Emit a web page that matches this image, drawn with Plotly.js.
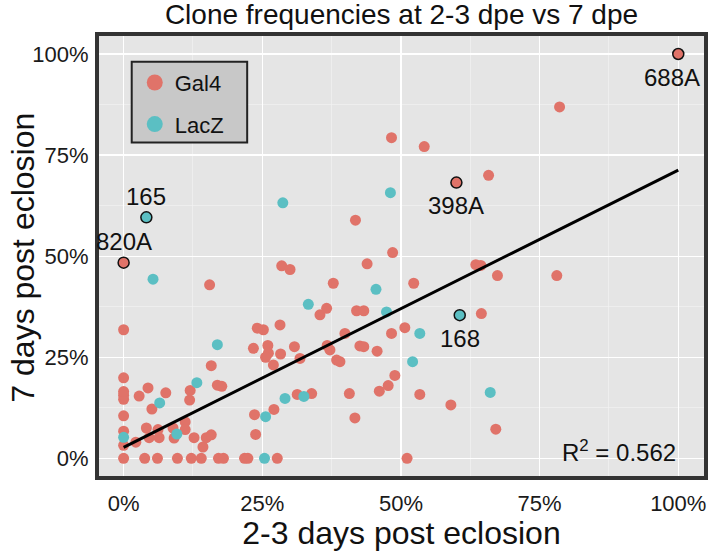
<!DOCTYPE html>
<html><head><meta charset="utf-8">
<script src="https://cdn.plot.ly/plotly-3.0.1.min.js"></script>
<style>html,body{margin:0;padding:0;background:#fff}</style>
</head><body><div id="chart" style="width:721px;height:551px"></div>
<script>
// Gal4 series (first three points are labelled)
const gal4X = [1.0, 0.600, 0.0,
  0, 0.038, 0.061, 0.097, 0.122, 0.140, 0.171, 0.180, 0.218, 0.224, 0.277, 0.511,
  0, 0, 0, 0, 0, 0, 0, 0,
  0.022, 0.028, 0.041, 0.044, 0.046, 0.051, 0.062, 0.064, 0.076, 0.089, 0.091, 0.111, 0.111, 0.119, 0.120,
  0.127, 0.143, 0.149, 0.158, 0.155, 0.158, 0.169, 0.177, 0.236, 0.238, 0.234, 0.241, 0.252, 0.260, 0.261,
  0.256, 0.270, 0.271, 0.282, 0.283, 0.285, 0.300, 0.308, 0.313, 0.318, 0.339, 0.354, 0.366, 0.367, 0.372,
  0.378, 0.384, 0.390, 0.399, 0.407, 0.417, 0.418, 0.420, 0.433, 0.426, 0.433, 0.439, 0.457, 0.461, 0.477,
  0.483, 0.483, 0.485, 0.489, 0.507, 0.523, 0.534, 0.542, 0.590, 0.635, 0.644, 0.645, 0.658, 0.671, 0.674,
  0.781, 0.786];
const gal4Y = [1.0, 0.682, 0.484,
  0, 0, 0, 0, 0, 0, 0, 0, 0, 0, 0, 0,
  0.032, 0.067, 0.105, 0.146, 0.156, 0.165, 0.199, 0.318,
  0.040, 0.154, 0.075, 0.174, 0.051, 0.122, 0.071, 0.051, 0.162, 0.075, 0.050, 0.090, 0.071, 0.144, 0.168,
  0.051, 0.028, 0.051, 0.058, 0.429, 0.229, 0.181, 0.178, 0.108, 0.059, 0.272, 0.322, 0.318, 0.279, 0.260,
  0.250, 0.231, 0.121, 0.330, 0.258, 0.476, 0.467, 0.276, 0.158, 0.247, 0.160, 0.355, 0.371, 0.279, 0.268,
  0.433, 0.243, 0.239, 0.309, 0.160, 0.100, 0.589, 0.365, 0.365, 0.278, 0.276, 0.481, 0.265, 0.166, 0.180,
  0.309, 0.793, 0.509, 0.205, 0.323, 0.433, 0.158, 0.771, 0.132, 0.479, 0.477, 0.358, 0.700, 0.072, 0.452,
  0.452, 0.869];
const gal4Labels = ['688A', '398A', '820A'];

// LacZ series (first two points are labelled)
const laczX = [0.041, 0.606,
  0, 0.053, 0.065, 0.096, 0.132, 0.169, 0.254, 0.256, 0.287, 0.291, 0.325, 0.333, 0.455, 0.474, 0.481,
  0.521, 0.534, 0.661];
const laczY = [0.596, 0.354,
  0.052, 0.443, 0.137, 0.060, 0.187, 0.281, 0, 0.103, 0.632, 0.148, 0.153, 0.381, 0.418, 0.362, 0.657,
  0.239, 0.309, 0.163];
const laczLabels = ['165', '168'];

// Linear fit
const fitIntercept = 0.027;
const fitSlope = 0.686;
const rSquared = '0.562';

const xTickVals = [0, 0.25, 0.5, 0.75, 1];
const xTickText = ['0%', '25%', '50%', '75%', '100%'];
const yTickVals = [0, 0.25, 0.5, 0.75, 1];
const yTickText = ['0%', '25%', '50%', '75%', '100%'];

const titleText = 'Clone frequencies at 2-3 dpe vs 7 dpe';
const xTitleText = '2-3 days post eclosion';
const yTitleText = '7 days post eclosion';

const labelPlacement = {'688A': 'below', '398A': 'below', '820A': 'above', '165': 'above', '168': 'below'};

const RED = '#E07369', TEAL = '#5BBFC3';
const FONT = 'Liberation Sans, Arial, Helvetica, sans-serif';

function seriesTrace(xs, ys, labels, color, name) {
  const lw = xs.map((_, i) => labels[i] ? 1.5 : 0);
  return {
    x: xs, y: ys, mode: 'markers', type: 'scatter', name: name, showlegend: false,
    marker: {size: 11, color: color, line: {color: '#111', width: lw}},
    hoverinfo: 'x+y'
  };
}

const allX = gal4X.concat(laczX);
const minX = Math.min(...allX), maxX = Math.max(...allX);
const fitTrace = {
  x: [minX, maxX], y: [fitIntercept + fitSlope * minX, fitIntercept + fitSlope * maxX],
  mode: 'lines', type: 'scatter', line: {color: '#000', width: 3}, showlegend: false, hoverinfo: 'skip'
};

const data = [
  seriesTrace(gal4X.slice(3), gal4Y.slice(3), [], RED, 'Gal4'),
  seriesTrace(laczX.slice(2), laczY.slice(2), [], TEAL, 'LacZ'),
  fitTrace,
  seriesTrace(gal4X.slice(0, 3), gal4Y.slice(0, 3), gal4Labels, RED, 'Gal4'),
  seriesTrace(laczX.slice(0, 2), laczY.slice(0, 2), laczLabels, TEAL, 'LacZ'),
  {x: [null], y: [null], mode: 'markers', type: 'scatter', name: 'Gal4', legendgroup: 'a',
   marker: {size: 16, color: RED}},
  {x: [null], y: [null], mode: 'markers', type: 'scatter', name: 'LacZ', legendgroup: 'b',
   marker: {size: 16, color: TEAL}}
];

const annotations = [];
function addLabels(xs, ys, labels) {
  labels.forEach((t, i) => {
    if (!t) return;
    const below = labelPlacement[t] === 'below';
    annotations.push({
      x: xs[i], y: ys[i], xref: 'x', yref: 'y', text: t, showarrow: false,
      xanchor: 'center', yanchor: 'middle', yshift: below ? -23 : 21, xshift: t === '688A' ? -6 : 0,
      font: {family: FONT, size: 24, color: '#111'}
    });
  });
}
addLabels(gal4X, gal4Y, gal4Labels);
addLabels(laczX, laczY, laczLabels);
annotations.push({
  x: 1.0, y: 0.018, xref: 'x', yref: 'y', text: 'R<sup>2</sup> = ' + rSquared, showarrow: false,
  xanchor: 'right', yanchor: 'middle', font: {family: FONT, size: 24, color: '#111'}
});
// y-axis title (placed as an annotation so it can sit close to the tick labels)
annotations.push({
  x: -0.121, y: 0.497, xref: 'paper', yref: 'paper', text: yTitleText, showarrow: false,
  textangle: -90, xanchor: 'center', yanchor: 'middle',
  font: {family: FONT, size: 32, color: '#111'}
});

const axisCommon = {
  showgrid: true, gridcolor: '#FFFFFF', gridwidth: 1.2, zeroline: false, showline: false,
  ticks: 'outside', tickcolor: 'rgba(0,0,0,0)',
  tickfont: {family: FONT, size: 22, color: '#1a1a1a'},
  minor: {showgrid: true, gridcolor: '#F4F4F4', gridwidth: 0.6, ticks: ''},
  fixedrange: true
};

const layout = {
  width: 721, height: 551,
  margin: {l: 97, r: 15, t: 34, b: 73, pad: 0},
  paper_bgcolor: '#FFFFFF', plot_bgcolor: '#E5E5E5',
  font: {family: FONT, color: '#111'},
  title: {text: titleText, font: {family: FONT, size: 28, color: '#111'},
          x: 0.5, xref: 'paper', xanchor: 'center', y: 0.974, yref: 'container', yanchor: 'middle'},
  xaxis: Object.assign({}, axisCommon, {
    range: [-0.048, 1.05], tickvals: xTickVals, ticktext: xTickText, ticklen: 6,
    minor: Object.assign({}, axisCommon.minor, {tickvals: [0.125, 0.375, 0.625, 0.875]}),
    title: {text: xTitleText, font: {family: FONT, size: 32, color: '#111'}, standoff: 4}
  }),
  yaxis: Object.assign({}, axisCommon, {
    range: [-0.0487, 1.0495], tickvals: yTickVals, ticktext: yTickText, ticklen: 3,
    minor: Object.assign({}, axisCommon.minor, {tickvals: [0.125, 0.375, 0.625, 0.875]})
  }),
  legend: {
    x: 0.062, y: 0.9376, xanchor: 'left', yanchor: 'top', xref: 'paper', yref: 'paper',
    bgcolor: 'rgba(0,0,0,0)', borderwidth: 0, tracegroupgap: 10,
    font: {family: FONT, size: 22, color: '#111'}, traceorder: 'grouped'
  },
  shapes: [
    {type: 'rect', xref: 'paper', yref: 'paper', x0: 0.057, x1: 0.2466, y0: 0.7558, y1: 0.9376,
     fillcolor: '#C8C8C8', line: {color: '#222', width: 2}, layer: 'above'},
    {type: 'rect', xref: 'paper', yref: 'paper', x0: 0, x1: 1, y0: 0, y1: 1,
     line: {color: '#333', width: 4}, layer: 'above'}
  ],
  annotations: annotations,
  showlegend: true
};

Plotly.newPlot('chart', data, layout, {displayModeBar: false, staticPlot: true});
</script>
</body></html>
